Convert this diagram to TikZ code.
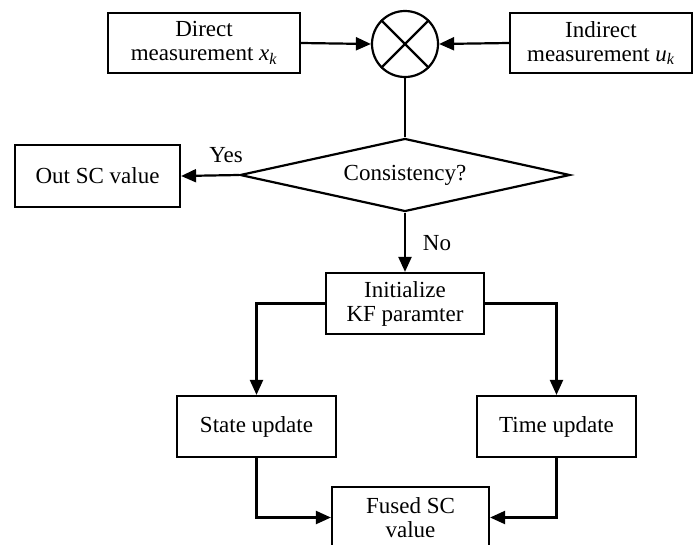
\documentclass[tikz,border=0pt]{standalone}
\usepackage{fontspec}
\setmainfont{Liberation Serif}
\usetikzlibrary{arrows.meta,shapes.geometric}
\begin{document}
\begin{tikzpicture}[x=1pt,y=-1pt,line width=2.2pt,
  every node/.style={font=\fontsize{23}{24}\selectfont},
  box/.style={draw,line width=2.2pt,rectangle,inner sep=0pt,align=center},
  arr/.style={-{Triangle[length=15pt,width=13pt]}},
  lbl/.style={inner sep=0pt}]
\useasboundingbox (0,0) rectangle (693,544);
\node[box,minimum width=192pt,minimum height=60pt] (direct) at (204,43) {Direct\\measurement \textit{x}\textsubscript{\textit{k}}};
\node[draw,line width=2.2pt,circle,minimum size=66pt,inner sep=0pt] (mix) at (405,44) {};
\draw (mix.north west) -- (mix.south east) (mix.north east) -- (mix.south west);
\node[box,minimum width=182pt,minimum height=60pt] (indirect) at (601,43) {Indirect\\measurement \textit{u}\textsubscript{\textit{k}}};
\node[draw,line width=2.2pt,diamond,aspect=4.5,minimum width=330pt,minimum height=73pt,inner sep=0pt] (cons) at (405,175) {Consistency?};
\node[box,minimum width=165pt,minimum height=62pt] (out) at (97.5,176) {Out SC value};
\node[box,minimum width=158pt,minimum height=61pt] (init) at (405,303.5) {Initialize\\KF paramter};
\node[box,minimum width=159pt,minimum height=61pt] (state) at (256.5,426.5) {State update};
\node[box,minimum width=159pt,minimum height=61pt] (time) at (556.5,426.5) {Time update};
\node[box,minimum width=157pt,minimum height=61pt] (fused) at (410.5,517.5) {Fused SC\\value};
\node[lbl] (yes) at (226,155) {Yes};
\node[lbl] (no) at (437,243) {No};
\draw[arr] (direct.east) -- (mix.west);
\draw[arr] (indirect.west) -- (mix.east);
\draw (mix.south) -- (cons.north);
\draw[arr] (cons.west) -- (out.east);
\draw[arr] (cons.south) -- (init.north);
\draw[arr] (init.west) -| (state.north);
\draw[arr] (init.east) -| (time.north);
\draw[arr] (state.south) |- (fused.west);
\draw[arr] (time.south) |- (fused.east);
\end{tikzpicture}
\end{document}
